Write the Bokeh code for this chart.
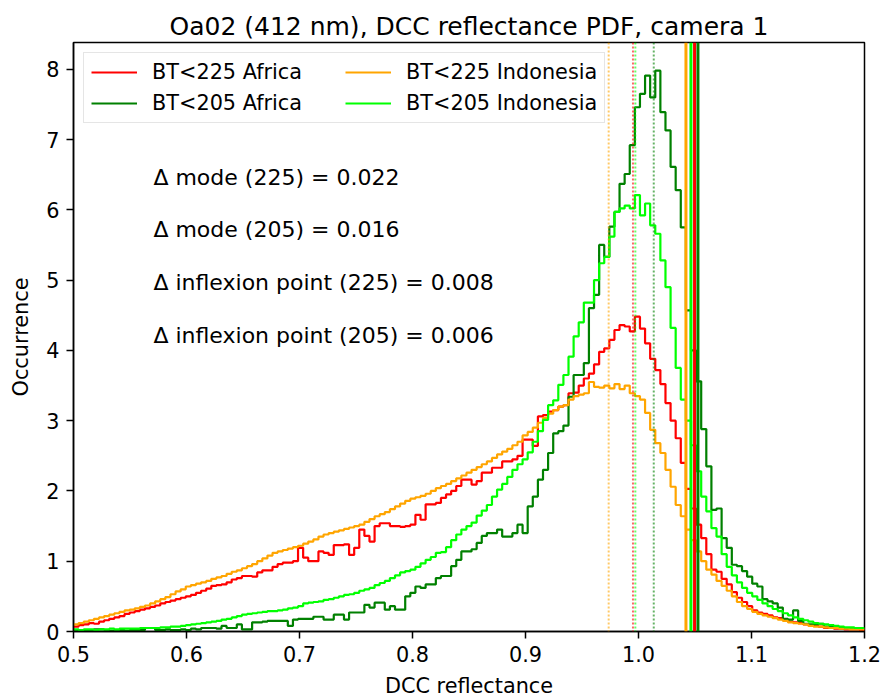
import numpy as np
from bokeh.plotting import figure
from bokeh.models import Span, Label, Legend, LegendItem, FixedTicker, Range1d
from bokeh.embed import file_html
from bokeh.resources import INLINE

# ---------------- data ----------------
bin_start = 0.5
bin_stop = 1.2
n_bins = 155

africa_225 = [
    0.07, 0.09, 0.10, 0.12, 0.11, 0.14, 0.16, 0.18, 0.20, 0.22,
    0.25, 0.27, 0.29, 0.31, 0.33, 0.35, 0.37, 0.40, 0.42, 0.44,
    0.46, 0.48, 0.50, 0.52, 0.55, 0.58, 0.61, 0.65, 0.66, 0.67,
    0.70, 0.74, 0.76, 0.79, 0.79, 0.78, 0.84, 0.87, 0.87, 0.92,
    0.96, 0.98, 0.98, 1.00, 1.19, 1.05, 1.00, 1.00, 1.14, 1.12,
    1.09, 1.23, 1.23, 1.24, 1.09, 1.19, 1.45, 1.36, 1.28, 1.50,
    1.54, 1.54, 1.50, 1.50, 1.49, 1.50, 1.52, 1.66, 1.59, 1.81,
    1.81, 1.83, 1.90, 1.95, 2.00, 2.07, 2.16, 2.16, 2.09, 2.14,
    2.26, 2.26, 2.33, 2.33, 2.42, 2.42, 2.45, 2.50, 2.73, 2.73,
    2.64, 3.06, 3.08, 3.13, 3.15, 3.20, 3.22, 3.39, 3.40, 3.50,
    3.60, 3.67, 3.80, 3.98, 4.03, 4.15, 4.29, 4.36, 4.34, 4.27,
    4.48, 4.31, 4.10, 3.88, 3.72, 3.52, 3.25, 3.00, 2.75, 2.40,
    2.03, 1.75, 1.52, 1.33, 1.10, 0.88, 0.85, 0.75, 0.67, 0.56,
    0.48, 0.42, 0.36, 0.30, 0.27, 0.25, 0.23, 0.20, 0.19, 0.17,
    0.14, 0.13, 0.12, 0.10, 0.09, 0.08, 0.07, 0.05, 0.05, 0.04,
    0.04, 0.03, 0.03, 0.03, 0.02,
]

indonesia_225 = [
    0.10, 0.12, 0.14, 0.16, 0.18, 0.20, 0.22, 0.24, 0.26, 0.28,
    0.30, 0.31, 0.33, 0.35, 0.37, 0.40, 0.43, 0.46, 0.49, 0.53,
    0.57, 0.60, 0.64, 0.66, 0.68, 0.70, 0.72, 0.75, 0.77, 0.79,
    0.82, 0.85, 0.87, 0.90, 0.93, 0.96, 1.00, 1.04, 1.08, 1.12,
    1.14, 1.16, 1.18, 1.20, 1.22, 1.25, 1.28, 1.31, 1.35, 1.38,
    1.40, 1.42, 1.44, 1.46, 1.48, 1.50, 1.52, 1.56, 1.60, 1.64,
    1.67, 1.70, 1.74, 1.78, 1.82, 1.86, 1.89, 1.91, 1.93, 1.96,
    2.00, 2.04, 2.07, 2.10, 2.14, 2.18, 2.22, 2.26, 2.30, 2.34,
    2.38, 2.42, 2.47, 2.52, 2.56, 2.60, 2.65, 2.70, 2.79, 2.84,
    2.90, 2.97, 3.04, 3.10, 3.15, 3.20, 3.22, 3.30, 3.35, 3.37,
    3.39, 3.55, 3.48, 3.47, 3.50, 3.46, 3.52, 3.45, 3.50, 3.39,
    3.35, 3.30, 3.11, 2.87, 2.68, 2.54, 2.30, 2.06, 1.80, 1.64,
    1.45, 1.30, 1.14, 1.00, 0.88, 0.81, 0.72, 0.65, 0.58, 0.50,
    0.42, 0.36, 0.32, 0.28, 0.25, 0.23, 0.21, 0.19, 0.17, 0.15,
    0.13, 0.12, 0.11, 0.10, 0.08, 0.07, 0.07, 0.06, 0.05, 0.05,
    0.04, 0.04, 0.03, 0.03, 0.03,
]

africa_205 = [
    0.02, 0.02, 0.01, 0.02, 0.03, 0.03, 0.02, 0.01, 0.02, 0.02,
    0.01, 0.02, 0.02, 0.02, 0.05, 0.05, 0.02, 0.02, 0.03, 0.02,
    0.02, 0.03, 0.02, 0.04, 0.03, 0.05, 0.05, 0.05, 0.04, 0.08,
    0.05, 0.05, 0.10, 0.03, 0.03, 0.13, 0.13, 0.14, 0.15, 0.15,
    0.15, 0.15, 0.08, 0.17, 0.18, 0.18, 0.18, 0.21, 0.21, 0.17,
    0.17, 0.24, 0.24, 0.17, 0.27, 0.27, 0.27, 0.38, 0.34, 0.41,
    0.41, 0.31, 0.36, 0.31, 0.31, 0.50, 0.55, 0.64, 0.62, 0.67,
    0.67, 0.76, 0.79, 0.79, 0.93, 1.02, 1.14, 1.14, 1.17, 1.26,
    1.36, 1.40, 1.40, 1.45, 1.35, 1.35, 1.40, 1.52, 1.40, 1.78,
    1.92, 2.16, 2.30, 2.54, 2.82, 2.85, 2.93, 3.34, 3.65, 3.65,
    3.82, 4.60, 4.79, 5.50, 5.33, 5.76, 5.97, 6.37, 6.51, 6.92,
    7.46, 7.65, 7.91, 7.60, 7.98, 7.39, 7.13, 6.61, 6.28, 5.75,
    4.57, 4.00, 3.56, 2.88, 2.35, 1.73, 1.75, 1.33, 1.19, 0.95,
    0.93, 0.86, 0.78, 0.68, 0.64, 0.46, 0.43, 0.40, 0.34, 0.18,
    0.17, 0.30, 0.15, 0.11, 0.10, 0.10, 0.11, 0.07, 0.07, 0.06,
    0.05, 0.05, 0.05, 0.04, 0.04,
]

indonesia_205 = [
    0.03, 0.02, 0.03, 0.03, 0.02, 0.03, 0.03, 0.04, 0.03, 0.04,
    0.04, 0.04, 0.04, 0.05, 0.05, 0.05, 0.05, 0.06, 0.06, 0.07,
    0.07, 0.08, 0.09, 0.10, 0.11, 0.12, 0.13, 0.14, 0.15, 0.17,
    0.18, 0.20, 0.22, 0.24, 0.25, 0.26, 0.27, 0.28, 0.29, 0.29,
    0.30, 0.31, 0.33, 0.34, 0.36, 0.40, 0.41, 0.42, 0.43, 0.45,
    0.46, 0.48, 0.50, 0.52, 0.53, 0.55, 0.58, 0.60, 0.62, 0.66,
    0.69, 0.72, 0.76, 0.80, 0.84, 0.86, 0.88, 0.92, 0.97, 1.02,
    1.06, 1.12, 1.13, 1.20, 1.30, 1.38, 1.45, 1.50, 1.55, 1.65,
    1.72, 1.80, 1.92, 2.02, 2.10, 2.20, 2.30, 2.38, 2.45, 2.55,
    2.70, 2.85, 3.01, 3.22, 3.29, 3.51, 3.65, 3.91, 4.20, 4.40,
    4.68, 4.68, 5.00, 5.24, 5.33, 5.62, 5.97, 6.02, 6.06, 6.02,
    6.21, 5.92, 6.09, 5.78, 5.66, 5.28, 4.90, 4.32, 3.75, 3.30,
    3.00, 2.65, 2.28, 1.92, 1.71, 1.47, 1.35, 1.10, 0.92, 0.80,
    0.70, 0.62, 0.55, 0.50, 0.45, 0.40, 0.36, 0.32, 0.29, 0.26,
    0.23, 0.20, 0.18, 0.16, 0.14, 0.12, 0.11, 0.10, 0.09, 0.08,
    0.07, 0.06, 0.06, 0.05, 0.05,
]

series_labels = ["BT<225 Africa", "BT<205 Africa", "BT<225 Indonesia", "BT<205 Indonesia"]
series_colors = ["red", "green", "orange", "lime"]
series_values = [africa_225, africa_205, indonesia_225, indonesia_205]

# PDF mode (dotted) and inflexion point (solid), same order as series
mode_x = [0.9951, 1.0135, 0.9736, 0.9972]
inflexion_x = [1.0496, 1.0526, 1.0420, 1.0464]

annotation_texts = [
    "\u0394 mode (225) = 0.022",
    "\u0394 mode (205) = 0.016",
    "\u0394 inflexion point (225) = 0.008",
    "\u0394 inflexion point (205) = 0.006",
]

x_ticks = [0.5, 0.6, 0.7, 0.8, 0.9, 1.0, 1.1, 1.2]
x_tick_labels = ["0.5", "0.6", "0.7", "0.8", "0.9", "1.0", "1.1", "1.2"]
y_ticks = [0, 1, 2, 3, 4, 5, 6, 7, 8]
y_tick_labels = ["0", "1", "2", "3", "4", "5", "6", "7", "8"]

title_text = "Oa02 (412 nm), DCC reflectance PDF, camera 1"
x_label = "DCC reflectance"
y_label = "Occurrence"

# ---------------- figure ----------------
FONT = "DejaVu Sans"

p = figure(
    width=881, height=700,
    min_border_left=73, min_border_right=17, min_border_top=42, min_border_bottom=68,
    x_range=Range1d(0.5, 1.2), y_range=Range1d(0, 8.381),
    output_backend="svg", toolbar_location=None,
    title=title_text,
)
p.title.text_font = FONT
p.title.text_font_size = "25px"
p.title.text_font_style = "normal"
p.title.align = "center"
p.title.text_color = "black"
p.title.standoff = 4

p.background_fill_color = "white"
p.border_fill_color = "white"
p.xgrid.visible = False
p.ygrid.visible = False
p.outline_line_color = "black"
p.outline_line_width = 1.5
p.outline_line_alpha = 1.0

for ax in (p.xaxis[0], p.yaxis[0]):
    ax.axis_line_color = "black"
    ax.axis_line_width = 1.5
    ax.major_tick_line_color = "black"
    ax.major_tick_line_width = 1.5
    ax.major_tick_out = 7
    ax.major_tick_in = 0
    ax.minor_tick_line_color = None
    ax.major_label_text_font = FONT
    ax.major_label_text_font_size = "20.8px"
    ax.major_label_text_color = "black"
    ax.axis_label_text_font = FONT
    ax.axis_label_text_font_size = "20.8px"
    ax.axis_label_text_font_style = "normal"
    ax.axis_label_text_color = "black"
    ax.major_label_standoff = 7

p.xaxis[0].ticker = FixedTicker(ticks=x_ticks)
p.xaxis[0].major_label_overrides = {t: l for t, l in zip(x_ticks, x_tick_labels)}
p.yaxis[0].ticker = FixedTicker(ticks=y_ticks)
p.yaxis[0].major_label_overrides = {t: l for t, l in zip(y_ticks, y_tick_labels)}
p.xaxis[0].axis_label = x_label
p.yaxis[0].axis_label = y_label
p.xaxis[0].axis_label_standoff = 9
p.yaxis[0].axis_label_standoff = 10

edges = np.linspace(bin_start, bin_stop, n_bins + 1)

items = []
for lab, col, vals in zip(series_labels, series_colors, series_values):
    yy = list(vals) + [vals[-1]]
    r = p.step(x=edges, y=yy, mode="after", line_color=col, line_width=2.2)
    items.append(LegendItem(label=lab, renderers=[r]))

for col, mx in zip(series_colors, mode_x):
    p.add_layout(Span(location=mx, dimension="height", line_color=col,
                      line_width=2, line_dash="2 2", line_alpha=0.6))
for col, ix in zip(series_colors, inflexion_x):
    p.add_layout(Span(location=ix, dimension="height", line_color=col,
                      line_width=3))

annot_y = [6.46, 5.72, 4.97, 4.21]
for txt, yy in zip(annotation_texts, annot_y):
    p.add_layout(Label(x=0.5707, y=yy, text=txt, text_font=FONT,
                       text_font_size="22px", text_baseline="alphabetic",
                       text_align="left", text_color="black"))

legend = Legend(items=items, ncols=2, location="top_left")
legend.label_text_font = FONT
legend.label_text_font_size = "20.8px"
legend.label_text_color = "black"
legend.glyph_width = 46
legend.glyph_height = 24
legend.label_height = 24
legend.label_standoff = 15
legend.label_width = 186
legend.spacing = 7
legend.padding = 7
legend.margin = 10
legend.border_line_color = "#cccccc"
legend.border_line_width = 1
legend.background_fill_color = "white"
legend.background_fill_alpha = 0.8
p.add_layout(legend)

open("out.html", "w").write(file_html(p, INLINE))
